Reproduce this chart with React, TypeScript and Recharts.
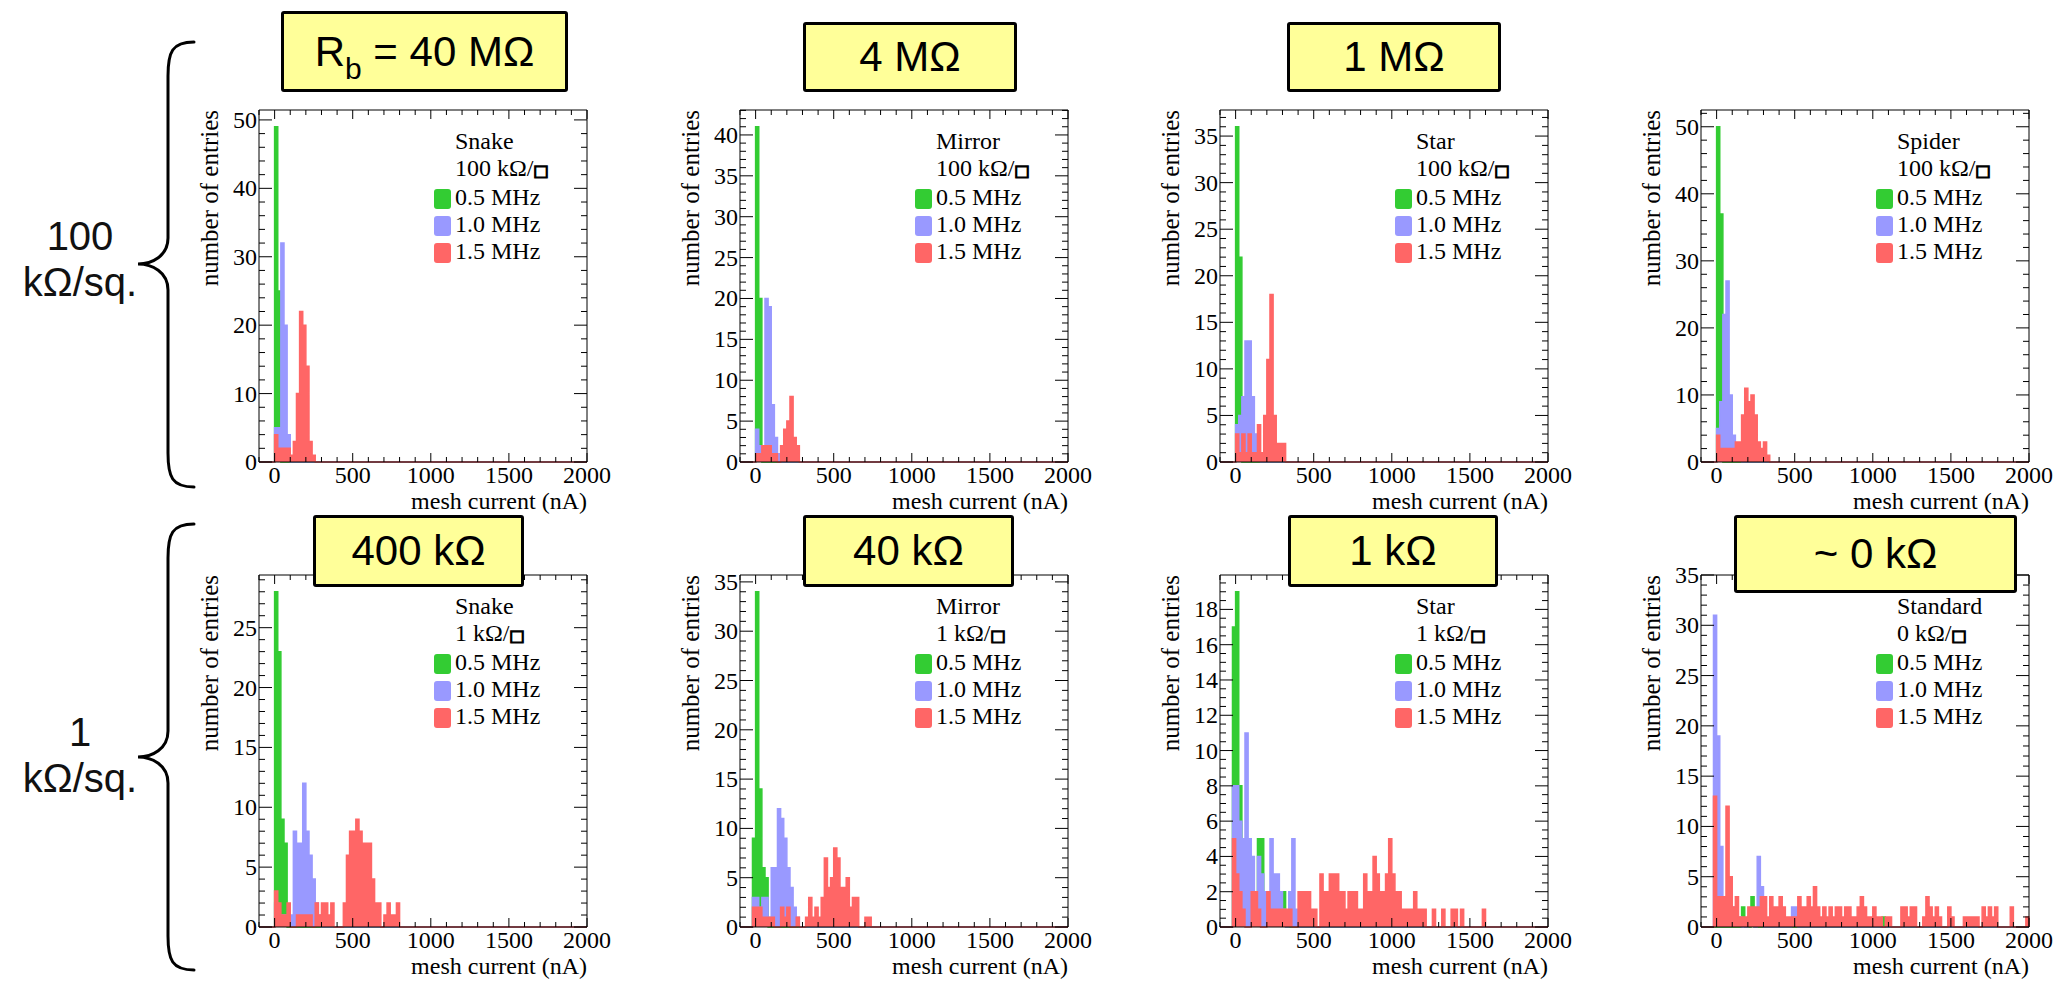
import React from 'react'
import { ComposedChart, Area, XAxis, YAxis, Legend } from 'recharts'

const SERIF = '"Liberation Serif", "Times New Roman", serif'
const SANS = '"Liberation Sans", Arial, sans-serif'

// histogram binning in nA: 20 nA bins, every count list starts at the [-20, 0) bin
const BIN = 20
const X_MIN = -100
const X_MAX = 2000
const xMajorTicks = [0, 500, 1000, 1500, 2000]
const freqNames = ['0.5 MHz', '1.0 MHz', '1.5 MHz']

// top row, 100 kOhm/sq. sheets
const snake100Green = [0, 49, 25]
const snake100Blue = [0, 5, 5, 32, 20, 4]
const snake100Red = [0, 4, 2, 2, 2, 2, 1, 3, 10, 22, 20, 14, 3, 1]
const snake100Ticks = [0, 10, 20, 30, 40, 50]

const mirror100Green = [0, 41, 20]
const mirror100Blue = [0, 4, 2, 2, 20, 19, 7, 3, 1]
const mirror100Red = [0, 1, 1, 2, 2, 2, 1, 1, 0, 2, 4, 5, 8, 3, 2]
const mirror100Ticks = [0, 5, 10, 15, 20, 25, 30, 35, 40]

const star100Green = [0, 36, 22]
const star100Blue = [0, 4, 5, 7, 13, 13, 7, 3, 1]
const star100Red = [0, 3, 1, 3, 1, 3, 1, 1, 4, 1, 5, 11, 18, 5, 2, 2, 2]
const star100Ticks = [0, 5, 10, 15, 20, 25, 30, 35]

const spider100Green = [0, 50, 37]
const spider100Blue = [0, 5, 9, 22, 27, 10, 4, 1, 1]
const spider100Red = [0, 4, 2, 2, 2, 2, 2, 3, 3, 7, 11, 9, 10, 7, 3, 2, 3, 1]
const spider100Ticks = [0, 10, 20, 30, 40, 50]

// bottom row, 1 kOhm/sq. sheets (and the standard mesh)
const snake1Green = [0, 28, 23, 9, 7]
const snake1Blue = [0, 2, 1, 1, 1, 1, 1, 8, 7, 7, 12, 8, 6, 4, 2, 1]
const snake1Red = [
  0, 3, 2, 1, 1, 2, 0, 0, 1, 1, 1, 1, 1, 0, 2, 1, 2, 2, 1, 2, 0,
  0, 0, 2, 6, 8, 8, 9, 8, 7, 7, 7, 4, 2, 2, 0, 1, 2, 1, 1, 2,
]
const snake1Ticks = [0, 5, 10, 15, 20, 25]

const mirror1Green = [9, 34, 14, 6, 5]
const mirror1Blue = [3, 3, 2, 3, 3, 1, 6, 6, 12, 11, 9, 6, 4, 2, 1]
const mirror1Red = [
  2, 2, 2, 1, 1, 1, 1, 0, 0, 2, 1, 2, 0, 0, 1, 0, 0, 1, 3, 1,
  2, 1, 3, 7, 4, 5, 8, 7, 4, 4, 5, 2, 3, 3, 0, 0, 1, 1,
]
const mirror1Ticks = [0, 5, 10, 15, 20, 25, 30, 35]

const star1Green = [17, 19, 8, 4, 4, 3, 2, 2, 5, 5, 2, 2, 1, 1, 1, 1, 2]
const star1Blue = [8, 8, 6, 5, 11, 5, 4, 2, 4, 3, 2, 2, 5, 3, 3, 2, 1, 0, 2, 5, 1]
const star1Red = [
  5, 3, 2, 1, 0, 0, 2, 2, 1, 0, 0, 2, 1, 1, 1, 1, 1, 1, 1, 0,
  0, 2, 2, 2, 2, 1, 1, 0, 3, 2, 2, 3, 3, 3, 2, 2, 1, 2, 2, 2,
  1, 1, 3, 2, 2, 4, 3, 2, 2, 3, 5, 3, 2, 2, 1, 1, 1, 1, 2, 1,
  1, 1, 0, 0, 1, 0, 0, 1, 0, 0, 1, 1, 0, 1, 0, 0, 0, 0, 0, 0,
  1,
]
const star1Ticks = [0, 2, 4, 6, 8, 10, 12, 14, 16, 18]

const standard0Green = [
  0, 0, 0, 0, 0, 0, 0, 0, 0, 2, 0, 0, 3, 0, 0, 0, 0, 0, 0, 0,
  0, 0, 0, 0, 0, 0, 0, 0, 0, 0, 0, 0, 0, 0, 0, 0, 0, 0, 0, 0,
  0, 0, 0, 0, 0, 0, 0, 0, 0, 0, 0, 0, 0, 0, 1,
]
const standard0Blue = [31, 19, 8, 3, 2, 1, 2, 1, 1, 0, 0, 1, 1, 0, 7, 4, 0, 0, 0, 0, 0, 0, 0, 0, 0, 2, 2]
const standard0Red = [
  13, 3, 3, 3, 12, 5, 2, 3, 1, 1, 1, 2, 2, 2, 2, 3, 3, 1, 3, 2,
  2, 3, 2, 1, 1, 1, 1, 3, 2, 2, 3, 2, 4, 2, 1, 2, 1, 2, 1, 2,
  2, 1, 2, 2, 1, 1, 2, 3, 2, 1, 1, 2, 1, 1, 0, 1, 1, 0, 0, 0,
  2, 2, 1, 2, 2, 0, 0, 1, 3, 2, 1, 2, 1, 0, 0, 2, 1, 0, 0, 0,
  1, 1, 1, 1, 1, 0, 2, 1, 2, 1, 2, 0, 0, 0, 0, 2, 0, 0, 0, 0,
  1,
]
const standard0Ticks = [0, 5, 10, 15, 20, 25, 30, 35]

const COLORS = ['#33cc33', '#9999ff', '#ff6666']

type PanelDef = {
  shape: string
  sheet: string
  series: number[][]
  yMax: number
  yMajor: number[]
  yMinorStep: number
}

const panels: PanelDef[] = [
  { shape: 'Snake', sheet: '100', series: [snake100Green, snake100Blue, snake100Red], yMax: 51.45, yMajor: snake100Ticks, yMinorStep: 2 },
  { shape: 'Mirror', sheet: '100', series: [mirror100Green, mirror100Blue, mirror100Red], yMax: 43.05, yMajor: mirror100Ticks, yMinorStep: 1 },
  { shape: 'Star', sheet: '100', series: [star100Green, star100Blue, star100Red], yMax: 37.8, yMajor: star100Ticks, yMinorStep: 1 },
  { shape: 'Spider', sheet: '100', series: [spider100Green, spider100Blue, spider100Red], yMax: 52.5, yMajor: spider100Ticks, yMinorStep: 2 },
  { shape: 'Snake', sheet: '1', series: [snake1Green, snake1Blue, snake1Red], yMax: 29.4, yMajor: snake1Ticks, yMinorStep: 1 },
  { shape: 'Mirror', sheet: '1', series: [mirror1Green, mirror1Blue, mirror1Red], yMax: 35.7, yMajor: mirror1Ticks, yMinorStep: 1 },
  { shape: 'Star', sheet: '1', series: [star1Green, star1Blue, star1Red], yMax: 19.95, yMajor: star1Ticks, yMinorStep: 0.5 },
  { shape: 'Standard', sheet: '0', series: [standard0Green, standard0Blue, standard0Red], yMax: 35, yMajor: standard0Ticks, yMinorStep: 1 },
]

// frame (plot area) top-left corner of each panel on the page
const spots = [
  { left: 259, top: 110 }, { left: 740, top: 110 }, { left: 1220, top: 110 }, { left: 1701, top: 110 },
  { left: 259, top: 575 }, { left: 740, top: 575 }, { left: 1220, top: 575 }, { left: 1701, top: 575 },
]

const titleBoxes = [
  { label: 'Rb = 40 MΩ', sub: true, left: 281, top: 11, width: 287, height: 81 },
  { label: '4 MΩ', left: 803, top: 22, width: 214, height: 70 },
  { label: '1 MΩ', left: 1287, top: 22, width: 214, height: 70 },
  { label: '400 kΩ', left: 313, top: 515, width: 211, height: 72 },
  { label: '40 kΩ', left: 803, top: 515, width: 211, height: 72 },
  { label: '1 kΩ', left: 1288, top: 515, width: 210, height: 72 },
  { label: '~ 0 kΩ', left: 1734, top: 515, width: 283, height: 78 },
]

function steps(from: number, to: number, step: number) {
  const out: number[] = []
  for (let i = 0; from + i * step <= to + 1e-9; i++) out.push(Math.round((from + i * step) * 1000) / 1000)
  return out
}

const xMinorTicks = steps(X_MIN, X_MAX, 100)

function histRows(series: number[][]) {
  const rows: any[] = []
  for (let x = X_MIN; x <= X_MAX; x += BIN) {
    const i = x / BIN + 1
    rows.push({ x, g: series[0][i] ?? 0, b: series[1][i] ?? 0, r: series[2][i] ?? 0 })
  }
  return rows
}

const tickFont = { fontFamily: SERIF, fontSize: 24, fill: '#000' }

const xTick = (side: 'bottom' | 'top') => (props: any) => {
  const { x, y, payload } = props
  const major = xMajorTicks.includes(payload.value)
  const dir = side === 'bottom' ? -1 : 1
  return (
    <g>
      <line x1={x} y1={y} x2={x} y2={y + dir * (major ? 9 : 5)} stroke="#000" strokeWidth={1} />
      {side === 'bottom' && major && (
        <text x={x} y={y + 21} textAnchor="middle" {...tickFont}>{payload.value}</text>
      )}
    </g>
  )
}

const yTick = (side: 'left' | 'right', majors: number[]) => (props: any) => {
  const { x, y, payload } = props
  const major = majors.includes(payload.value)
  const dir = side === 'left' ? 1 : -1
  return (
    <g>
      <line x1={x} y1={y} x2={x + dir * (major ? 13 : 6)} y2={y} stroke="#000" strokeWidth={1} />
      {side === 'left' && major && (
        <text x={x - 2} y={y + 8} textAnchor="end" {...tickFont}>{payload.value}</text>
      )}
    </g>
  )
}

const legendContent = (shape: string, sheet: string) => (props: any) => (
  <div style={{ fontFamily: SERIF, fontSize: 24, lineHeight: '27px', color: '#000', textAlign: 'left', whiteSpace: 'nowrap' }}>
    <div style={{ paddingLeft: 21 }}>{shape}</div>
    <div style={{ paddingLeft: 21 }}>
      {sheet} kΩ/
      <span style={{ fontFamily: '"DejaVu Sans"', fontWeight: 'bold', fontSize: 16, WebkitTextStroke: '1.3px #000' }}>□</span>
    </div>
    {(props.payload || []).map((e: any) => (
      <div key={e.value} style={{ position: 'relative', paddingLeft: 21 }}>
        <span style={{ position: 'absolute', left: 0, top: 5, width: 17, height: 20, background: e.color, borderRadius: 3 }} />
        {e.value}
      </div>
    ))}
  </div>
)

const CW = 438
const CH = 432

function HistPanel({ def, spot }: { def: PanelDef; spot: { left: number; top: number } }) {
  const rows = histRows(def.series)
  const yTicks = steps(0, def.yMax, def.yMinorStep)
  return (
    <div style={{ position: 'absolute', left: spot.left - 80, top: spot.top - 20 }}>
      <ComposedChart width={CW} height={CH} data={rows} margin={{ top: 19, right: 29, bottom: 59, left: 79 }}>
        <XAxis
          xAxisId="b" dataKey="x" type="number" domain={[X_MIN, X_MAX]} ticks={xMinorTicks} interval={0}
          height={1} tickSize={0} tickMargin={0} tickLine={false} axisLine={{ stroke: '#000' }}
          tick={xTick('bottom')}
          label={(p: any) => {
            const vb = p.viewBox || { x: 80, y: 372, width: 328 }
            return (
              <text x={vb.x + vb.width} y={vb.y + 47} textAnchor="end" {...tickFont}>mesh current (nA)</text>
            )
          }}
        />
        <XAxis
          xAxisId="t" orientation="top" dataKey="x" type="number" domain={[X_MIN, X_MAX]} allowDataOverflow
          ticks={xMinorTicks} interval={0} height={1} tickSize={0} tickMargin={0} tickLine={false}
          axisLine={{ stroke: '#000' }} tick={xTick('top')}
        />
        <YAxis
          yAxisId="l" type="number" domain={[0, def.yMax]} ticks={yTicks} interval={0}
          width={1} tickSize={0} tickMargin={0} tickLine={false} axisLine={{ stroke: '#000' }}
          tick={yTick('left', def.yMajor)}
          label={(p: any) => {
            const vb = p.viewBox || { x: 79, y: 20, width: 1 }
            const x = vb.x + vb.width - 41
            const y = vb.y
            return (
              <text x={x} y={y} transform={`rotate(-90 ${x} ${y})`} textAnchor="end" {...tickFont} fontSize={25}>number of entries</text>
            )
          }}
        />
        <YAxis
          yAxisId="r" orientation="right" type="number" domain={[0, def.yMax]} allowDataOverflow ticks={yTicks}
          interval={0} width={1} tickSize={0} tickMargin={0} tickLine={false} axisLine={{ stroke: '#000' }}
          tick={yTick('right', def.yMajor)}
        />
        {['g', 'b', 'r'].map((key, i) => (
          <Area
            key={key}
            xAxisId="b"
            yAxisId="l"
            type="stepAfter"
            dataKey={key}
            name={freqNames[i]}
            stroke={COLORS[i]}
            strokeWidth={1.5}
            fill={COLORS[i]}
            fillOpacity={1}
            dot={false}
            activeDot={false}
            isAnimationActive={false}
          />
        ))}
        <Legend
          layout="horizontal"
          align="center"
          verticalAlign="middle"
          wrapperStyle={{ left: 80 + 175, top: 20 + 18, width: 170, height: 140 }}
          content={legendContent(def.shape, def.sheet)}
        />
      </ComposedChart>
    </div>
  )
}

function bracePath(yTop: number, yTip: number, yBot: number) {
  const xe = 194
  const xv = 168
  const xt = 138
  return [
    `M ${xe} ${yTop}`,
    `C ${xv + 4} ${yTop} ${xv} ${yTop + 10} ${xv} ${yTop + 34}`,
    `L ${xv} ${yTip - 26}`,
    `C ${xv} ${yTip - 8} ${xt + 14} ${yTip} ${xt} ${yTip}`,
    `C ${xt + 14} ${yTip} ${xv} ${yTip + 8} ${xv} ${yTip + 26}`,
    `L ${xv} ${yBot - 34}`,
    `C ${xv} ${yBot - 10} ${xv + 4} ${yBot} ${xe} ${yBot}`,
  ].join(' ')
}

function TitleBox({ box }: { box: any }) {
  return (
    <div
      style={{
        position: 'absolute', left: box.left, top: box.top, width: box.width, height: box.height,
        boxSizing: 'border-box', border: '3px solid #000', borderRadius: 3, background: '#ffff99',
        display: 'flex', alignItems: 'center', justifyContent: 'center',
        fontFamily: SANS, fontSize: 42, lineHeight: '42px', color: '#000', whiteSpace: 'nowrap',
      }}
    >
      {box.sub ? (
        <span>
          R<span style={{ fontSize: 30, position: 'relative', top: 13, lineHeight: 0 }}>b</span> = 40 MΩ
        </span>
      ) : (
        box.label
      )}
    </div>
  )
}

export default function App() {
  return (
    <div style={{ position: 'absolute', left: 0, top: 0, width: 2070, height: 981, background: '#fff', overflow: 'hidden' }}>
      <svg width={250} height={981} style={{ position: 'absolute', left: 0, top: 0 }}>
        <path d={bracePath(42, 264, 487)} fill="none" stroke="#000" strokeWidth={3} strokeLinecap="round" />
        <path d={bracePath(524, 757, 970)} fill="none" stroke="#000" strokeWidth={3} strokeLinecap="round" />
        <g fontFamily={SANS} fontSize={40} fill="#111" textAnchor="middle">
          <text x={80} y={250}>100</text>
          <text x={80} y={296}>kΩ/sq.</text>
          <text x={80} y={746}>1</text>
          <text x={80} y={792}>kΩ/sq.</text>
        </g>
      </svg>
      {panels.map((def, i) => (
        <HistPanel key={i} def={def} spot={spots[i]} />
      ))}
      {titleBoxes.map((b, i) => (
        <TitleBox key={i} box={b} />
      ))}
    </div>
  )
}
